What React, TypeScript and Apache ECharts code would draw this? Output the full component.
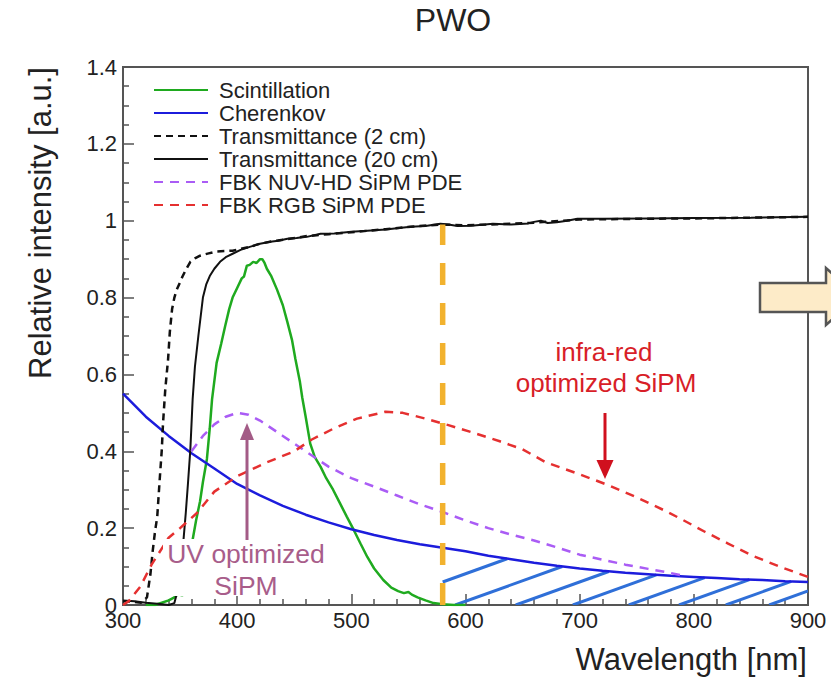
import React, { useEffect, useRef } from 'react';
import * as echarts from 'echarts';

// ---- data (wavelength in nm, relative intensity) ----
const scintillation: [number, number][] = [
  [320, 0], [328, 0.0], [334, 0.006], [340, 0.012], [345, 0.02], [348, 0.028], [352, 0.025], [354, 0.03],
  [357, 0.08], [361, 0.17], [364, 0.22], [367.5, 0.27], [370, 0.32], [373.5, 0.38], [376, 0.46], [378, 0.535],
  [382, 0.63], [386, 0.68], [389.5, 0.726], [393, 0.77], [396, 0.8], [400, 0.825], [404, 0.85], [406, 0.855],
  [408.5, 0.883], [411, 0.885], [414, 0.893], [417, 0.89], [420, 0.9], [422, 0.9], [424, 0.89], [426, 0.875],
  [430, 0.855], [435, 0.82], [440, 0.78], [444, 0.736], [448, 0.69], [451, 0.64], [455, 0.58], [457, 0.54],
  [460, 0.49], [464, 0.42], [468, 0.385], [473, 0.36], [478, 0.33], [484, 0.3], [490, 0.265], [496, 0.23],
  [502, 0.196], [508, 0.16], [514, 0.125], [520, 0.095], [528, 0.065], [535, 0.045], [541, 0.036], [546, 0.031],
  [550, 0.034], [553, 0.027], [558, 0.02], [565, 0.012], [572, 0.005], [580, 0.002], [590, 0], [600, 0],
];

const cherenkov: [number, number][] = [
  [300, 0.55], [320, 0.49], [340, 0.44], [360, 0.395], [380, 0.355], [400, 0.315], [420, 0.285], [440, 0.258],
  [460, 0.235], [480, 0.215], [500, 0.197], [520, 0.182], [540, 0.169], [560, 0.158], [580, 0.149], [600, 0.14],
  [620, 0.128], [640, 0.119], [660, 0.11], [680, 0.102], [700, 0.095], [720, 0.089], [740, 0.084], [760, 0.08],
  [780, 0.076], [800, 0.073], [820, 0.07], [840, 0.067], [860, 0.065], [880, 0.062], [900, 0.06],
];

const transmittance2cm: [number, number][] = [
  [300, 0.01], [310, 0.008], [316, 0.006], [321, 0.02], [324, 0.08], [326, 0.14], [328, 0.19], [330, 0.23],
  [332, 0.32], [334, 0.405], [335, 0.47], [337, 0.56], [339.5, 0.64], [341, 0.71], [343, 0.77], [345, 0.8],
  [347, 0.82], [350, 0.84], [352, 0.854], [355, 0.872], [359, 0.893], [363, 0.902], [367.5, 0.909], [375, 0.915],
  [382, 0.92], [396, 0.922], [411, 0.932], [420, 0.94], [430, 0.946], [444, 0.952], [461, 0.96], [480, 0.965],
  [500, 0.97], [530, 0.978], [555, 0.985], [578, 0.99], [600, 0.988], [630, 0.991], [660, 0.995], [700, 1.003],
  [750, 1.005], [800, 1.006], [850, 1.008], [900, 1.01],
];

const transmittance20cm: [number, number][] = [
  [300, 0.012], [310, 0.01], [320, 0.006], [330, 0.003], [340, 0], [345, 0.005], [348, 0.04], [351, 0.1],
  [353, 0.17], [355, 0.24], [357, 0.32], [359, 0.405], [361, 0.535], [363, 0.62], [366, 0.7], [370, 0.8],
  [373, 0.835], [376, 0.856], [380, 0.875], [385, 0.893], [390, 0.905], [396, 0.914], [403, 0.924], [411, 0.932],
  [420, 0.94], [429, 0.945], [436, 0.948], [444, 0.953], [452, 0.955], [461, 0.958], [473, 0.966], [485, 0.967],
  [500, 0.971], [514, 0.974], [530, 0.977], [552, 0.984], [565, 0.986], [578, 0.992], [585, 0.99], [593, 0.986],
  [605, 0.987], [624, 0.992], [640, 0.99], [655, 0.993], [660, 0.997], [666, 1.0], [672, 0.994], [680, 0.996],
  [689, 1.0], [698, 1.005], [720, 1.005], [760, 1.006], [800, 1.007], [850, 1.008], [900, 1.01],
];

const nuvHdPde: [number, number][] = [
  [360, 0.4], [370, 0.44], [380, 0.47], [390, 0.49], [400, 0.5], [410, 0.495], [420, 0.48], [440, 0.44],
  [460, 0.4], [480, 0.36], [500, 0.33], [520, 0.308], [540, 0.285], [560, 0.262], [580, 0.242], [600, 0.22],
  [620, 0.2], [640, 0.183], [660, 0.168], [680, 0.15], [700, 0.131], [720, 0.118], [740, 0.105], [760, 0.094],
  [780, 0.083], [790, 0.077],
];

const rgbPde: [number, number][] = [
  [300, 0], [305, 0.01], [315, 0.047], [325, 0.105], [340, 0.175], [350, 0.2], [365, 0.24], [380, 0.295],
  [400, 0.335], [425, 0.37], [450, 0.4], [465, 0.43], [485, 0.46], [505, 0.485], [530, 0.503], [545, 0.5],
  [565, 0.485], [585, 0.468], [605, 0.45], [630, 0.426], [650, 0.405], [670, 0.372], [700, 0.34], [725, 0.312],
  [750, 0.28], [775, 0.245], [790, 0.222], [810, 0.19], [830, 0.16], [850, 0.13], [875, 0.1], [900, 0.073],
];

const cutWavelength = 580;
const cutLine: [number, number][] = [[580, 0], [580, 0.99]];
const hatchStartsNm = [524, 591, 644, 694, 743, 787, 828, 866];

const seriesNames = [
  'Scintillation',
  'Cherenkov',
  'Transmittance (2 cm)',
  'Transmittance (20 cm)',
  'FBK NUV-HD SiPM PDE',
  'FBK RGB SiPM PDE',
];

const FONT = '"Liberation Sans", Arial, Helvetica, sans-serif';

export default function App() {
  const ref = useRef<HTMLDivElement>(null);

  useEffect(() => {
    const chart = echarts.init(ref.current!, null, { renderer: 'svg' });

    const lineSeries = (name: string, data: [number, number][], color: string, width: number, type: any, z = 3) => ({
      name,
      type: 'line',
      data,
      symbol: 'none',
      showSymbol: false,
      smooth: false,
      z,
      lineStyle: { color, width, type },
      itemStyle: { color },
      emphasis: { disabled: true },
    });

    const hatchSeries = {
      type: 'custom',
      coordinateSystem: 'cartesian2d',
      data: [[cutWavelength, 0]],
      silent: true,
      clip: true,
      z: 2,
      renderItem: (_params: any, api: any) => {
        const pts = cherenkov.map((p) => api.coord(p));
        const left = api.coord([cutWavelength, 0]);
        const right = api.coord([900, 0]);
        const baseY = left[1];
        const slope = 0.36;
        const curveY = (px: number) => {
          for (let i = 0; i < pts.length - 1; i++) {
            if (px >= pts[i][0] && px <= pts[i + 1][0]) {
              const t = (px - pts[i][0]) / (pts[i + 1][0] - pts[i][0]);
              return pts[i][1] + t * (pts[i + 1][1] - pts[i][1]);
            }
          }
          return pts[pts.length - 1][1];
        };
        const children: any[] = [];
        hatchStartsNm.forEach((nm) => {
          const s = api.coord([nm, 0]);
          let x0 = s[0];
          let y0 = baseY;
          if (x0 < left[0]) {
            y0 = baseY - slope * (left[0] - s[0]);
            x0 = left[0];
          }
          let x1 = x0;
          while (x1 < right[0]) {
            const nx = x1 + 0.5;
            const ny = baseY - slope * (nx - s[0]);
            if (ny < curveY(nx)) break;
            x1 = nx;
          }
          const y1 = baseY - slope * (x1 - s[0]);
          children.push({
            type: 'line',
            shape: { x1: x0, y1: y0, x2: x1, y2: y1 },
            style: { stroke: '#2f6fd8', lineWidth: 3, lineCap: 'butt' },
          });
        });
        return { type: 'group', children };
      },
    };

    const option: any = {
      animation: false,
      backgroundColor: '#ffffff',
      grid: {
        left: 123,
        right: 23,
        top: 67,
        bottom: 77,
        show: true,
        borderColor: '#555',
        borderWidth: 2,
        backgroundColor: 'transparent',
        outerBoundsMode: 'none',
        containLabel: false,
      },
      xAxis: {
        type: 'value',
        min: 300,
        max: 900,
        interval: 100,
        axisLine: { show: true, lineStyle: { color: '#555', width: 2 } },
        axisTick: { show: true, inside: true, length: 11, lineStyle: { color: '#555', width: 1.5 } },
        minorTick: { show: true, splitNumber: 5, length: 6, lineStyle: { color: '#555', width: 1.5 } },
        splitLine: { show: false },
        minorSplitLine: { show: false },
        axisLabel: { color: '#222', fontSize: 22, fontFamily: FONT, margin: 4 },
      },
      yAxis: {
        type: 'value',
        min: 0,
        max: 1.4,
        interval: 0.2,
        axisLine: { show: true, lineStyle: { color: '#555', width: 2 } },
        axisTick: { show: true, inside: true, length: 11, lineStyle: { color: '#555', width: 1.5 } },
        minorTick: { show: true, splitNumber: 4, length: 6, lineStyle: { color: '#555', width: 1.5 } },
        splitLine: { show: false },
        minorSplitLine: { show: false },
        axisLabel: { color: '#222', fontSize: 22, fontFamily: FONT, margin: 6 },
      },
      legend: {
        show: true,
        orient: 'vertical',
        left: 153,
        top: 79,
        padding: 0,
        itemGap: 1,
        itemWidth: 54,
        itemHeight: 14,
        data: seriesNames,
        selectedMode: false,
        itemStyle: { opacity: 0, borderWidth: 0 },
        textStyle: { color: '#222', fontSize: 22, fontFamily: FONT, lineHeight: 22, padding: [0, 0, 0, 6] },
      },
      series: [
        hatchSeries,
        lineSeries(seriesNames[0], scintillation, '#1faa1f', 2.5, 'solid', 4),
        lineSeries(seriesNames[1], cherenkov, '#1c1cdc', 2.5, 'solid', 4),
        lineSeries(seriesNames[2], transmittance2cm, '#111111', 2.5, [7, 5], 4),
        lineSeries(seriesNames[3], transmittance20cm, '#111111', 2, 'solid', 4),
        lineSeries(seriesNames[4], nuvHdPde, '#aa5cf5', 2.5, [9, 7], 4),
        lineSeries(seriesNames[5], rgbPde, '#e53030', 2.5, [9, 7], 4),
        {
          type: 'line',
          data: cutLine,
          symbol: 'none',
          z: 5,
          lineStyle: { color: '#f2b22e', width: 5.5, type: [22, 18] },
          emphasis: { disabled: true },
        },
      ],
      graphic: [
        {
          type: 'text', x: 453, y: 20, z: 100,
          style: { text: 'PWO', font: `32px ${FONT}`, fill: '#222', align: 'center', verticalAlign: 'middle' },
        },
        {
          type: 'text', x: 807, y: 659, z: 100,
          style: { text: 'Wavelength [nm]', font: `31px ${FONT}`, fill: '#222', align: 'right', verticalAlign: 'middle' },
        },
        {
          type: 'text', x: 40, y: 67, rotation: Math.PI / 2, z: 100,
          style: { text: 'Relative intensity [a.u.]', font: `31px ${FONT}`, fill: '#222', align: 'right', verticalAlign: 'middle' },
        },
        // UV annotation box + text + arrow
        {
          type: 'rect', z: 100,
          shape: { x: 163, y: 539, width: 168, height: 57 },
          style: { fill: '#ffffff' },
        },
        {
          type: 'text', x: 246, y: 554, z: 101,
          style: { text: 'UV optimized', font: `26.5px ${FONT}`, fill: '#a85d8a', align: 'center', verticalAlign: 'middle' },
        },
        {
          type: 'text', x: 246, y: 586, z: 101,
          style: { text: 'SiPM', font: `26.5px ${FONT}`, fill: '#a85d8a', align: 'center', verticalAlign: 'middle' },
        },
        {
          type: 'line', z: 101,
          shape: { x1: 247, y1: 540, x2: 247, y2: 438 },
          style: { stroke: '#a35b86', lineWidth: 3 },
        },
        {
          type: 'polygon', z: 101,
          shape: { points: [[240, 440], [254, 440], [247, 423]] },
          style: { fill: '#a35b86' },
        },
        // infra-red annotation
        {
          type: 'text', x: 604, y: 352, z: 101,
          style: { text: 'infra-red', font: `26px ${FONT}`, fill: '#d81e28', align: 'center', verticalAlign: 'middle' },
        },
        {
          type: 'text', x: 606, y: 383, z: 101,
          style: { text: 'optimized SiPM', font: `26px ${FONT}`, fill: '#d81e28', align: 'center', verticalAlign: 'middle' },
        },
        {
          type: 'line', z: 101,
          shape: { x1: 605, y1: 413, x2: 605, y2: 463 },
          style: { stroke: '#d0101e', lineWidth: 3 },
        },
        {
          type: 'polygon', z: 101,
          shape: { points: [[596.5, 460], [613.5, 460], [605, 479]] },
          style: { fill: '#d0101e' },
        },
        // block arrow at the right edge
        {
          type: 'polygon', z: 102,
          shape: { points: [[760, 283], [826, 283], [826, 268], [858, 296.5], [826, 325], [826, 312], [760, 312]] },
          style: { fill: '#fdebc8', stroke: '#555', lineWidth: 2.5 },
        },
      ],
    };

    chart.setOption(option);
    return () => chart.dispose();
  }, []);

  return (
    <div
      ref={ref}
      style={{ position: 'fixed', left: 0, top: 0, width: 831, height: 682, background: '#fff' }}
    />
  );
}
